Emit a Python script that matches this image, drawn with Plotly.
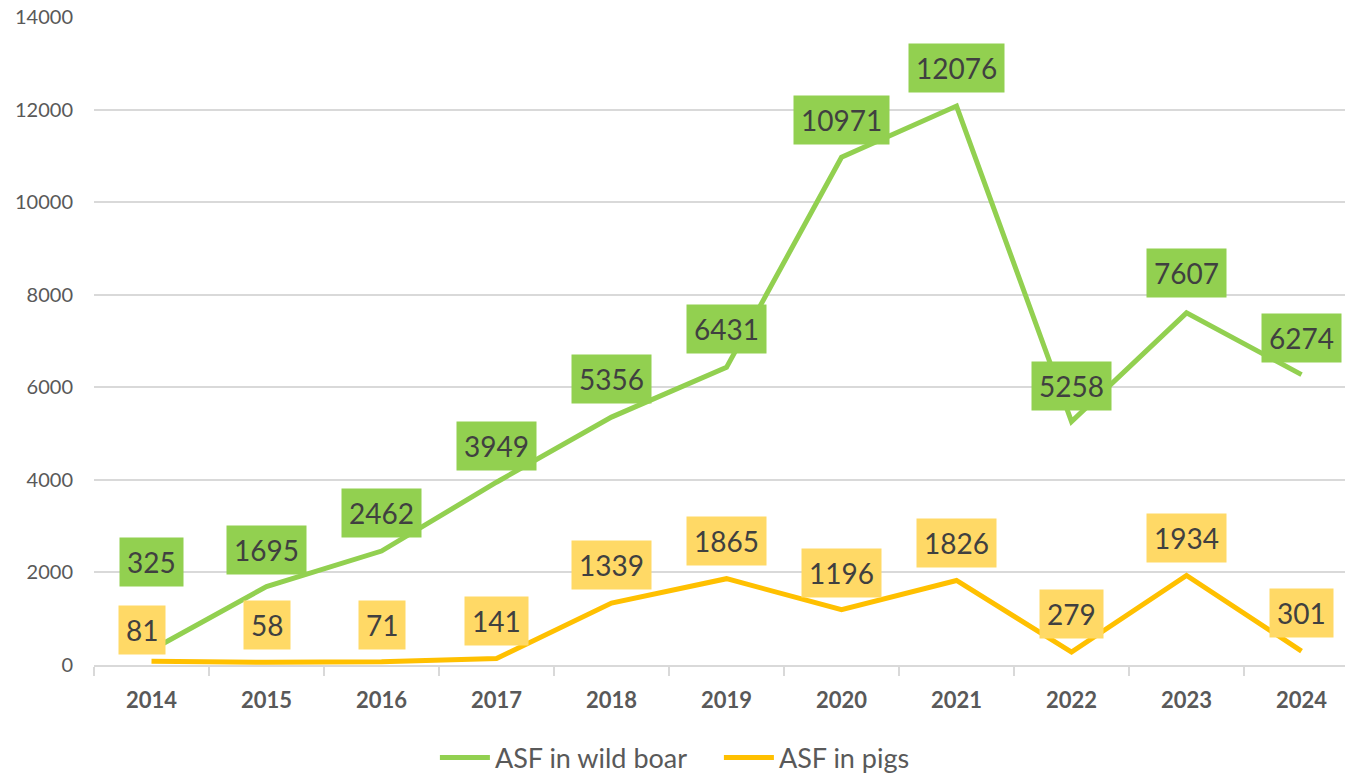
import plotly.graph_objects as go

years = ["2014", "2015", "2016", "2017", "2018", "2019", "2020", "2021", "2022", "2023", "2024"]
wild_boar = [325, 1695, 2462, 3949, 5356, 6431, 10971, 12076, 5258, 7607, 6274]
pigs = [81, 58, 71, 141, 1339, 1865, 1196, 1826, 279, 1934, 301]

# label offsets (pixels) for the data-label boxes
boar_yshift = [88, 37, 38, 36, 38, 38, 37, 38, 36, 40, 37]
pigs_yshift = [31, 37, 37, 37, 38, 38, 37, 37, 38, 37, 38]
pigs_xshift = [-10, 0, 0, 0, 0, 0, 0, 0, 0, 0, 0]

GREEN = "#92D050"
ORANGE = "#FFC000"
ORANGE_BOX = "#FFD966"
FONT = "Lato"

fig = go.Figure()
fig.add_trace(go.Scatter(x=years, y=wild_boar, mode="lines", name="ASF in wild boar",
                         line=dict(color=GREEN, width=5)))
fig.add_trace(go.Scatter(x=years, y=pigs, mode="lines", name="ASF in pigs",
                         line=dict(color=ORANGE, width=5)))

ann = []
for i, v in enumerate(wild_boar):
    ann.append(dict(x=i, y=v, xref="x", yref="y", text=str(v), showarrow=False,
                    yshift=boar_yshift[i], bgcolor=GREEN, borderpad=7,
                    font=dict(family=FONT, size=28, color="#404040")))
for i, v in enumerate(pigs):
    ann.append(dict(x=i, y=v, xref="x", yref="y", text=str(v), showarrow=False,
                    yshift=pigs_yshift[i], xshift=pigs_xshift[i], bgcolor=ORANGE_BOX, borderpad=7,
                    font=dict(family=FONT, size=28, color="#404040")))

fig.update_layout(
    width=1345, height=775,
    margin=dict(l=94, r=0, t=17, b=110),
    paper_bgcolor="white", plot_bgcolor="white",
    font=dict(family=FONT, color="#595959"),
    annotations=ann,
    showlegend=True,
    legend=dict(orientation="h", x=0.5345, xanchor="center", xref="container",
                y=0.022, yanchor="middle", yref="container",
                font=dict(family=FONT, size=27, color="#595959"),
                itemwidth=50, tracegroupgap=0, entrywidth=219),
)
fig.update_xaxes(type="category", range=[-0.5, 10.378],
                 showline=True, linecolor="#d9d9d9", linewidth=1.5,
                 ticks="outside", tickson="boundaries", ticklen=9, tickcolor="#d9d9d9", tickwidth=1.5,
                 showgrid=False,
                 tickfont=dict(family=FONT, size=22, color="#595959", weight="bold"),
                 ticklabelstandoff=15)
fig.update_yaxes(range=[0, 14000], dtick=2000, tickformat="d",
                 showgrid=True, gridcolor="#d9d9d9", gridwidth=1.5,
                 zeroline=False, showline=False,
                 tickfont=dict(family=FONT, size=20, color="#595959"),
                 ticklabelstandoff=20)

fig.write_html("out.html", config={"displayModeBar": False},
               post_script="document.body.style.margin='0';")
